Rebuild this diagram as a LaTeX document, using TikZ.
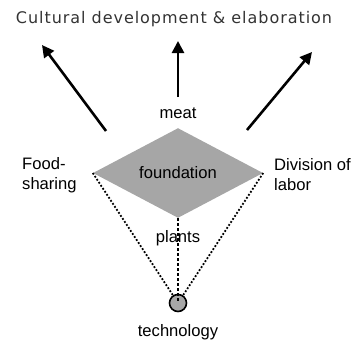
\documentclass[tikz,border=0pt]{standalone}
\usepackage{fontspec}
\setmainfont{Liberation Sans}
\newfontfamily\titlefont[LetterSpace=6]{DejaVu Sans}
\usetikzlibrary{arrows.meta,shapes.geometric}

\tikzset{
  label text/.style={font=\fontsize{16.6}{20}\selectfont, inner sep=0pt},
  side text/.style={label text, align=left, anchor=west},
  grow arrow/.style={line width=2.6pt, -{Triangle[length=12pt,width=12pt]}},
  tie line/.style={line width=1.8pt, dash pattern=on 1.8pt off 1.8pt},
}

\begin{document}
\begin{tikzpicture}[x=1pt, y=-1pt]
  \useasboundingbox (0,0) rectangle (358,345);

  % Title
  \node[font=\titlefont\fontsize{16}{18}\selectfont, text=black!80, inner sep=0pt] (title) at (174,19)
    {Cultural development \& elaboration};

  % Foundation diamond and technology
  \node[diamond, fill=black!35, minimum width=170pt, minimum height=84pt,
        inner sep=0pt, label text] (found) at (178,173) {foundation};
  \node[circle, fill=black!35, draw, line width=1.6pt, minimum size=17pt,
        inner sep=0pt] (tech) at (178,303) {};

  % Labels
  \node[label text] (meat) at (178,113) {meat};
  \node[label text] (plants) at (178,238) {plants};
  \node[label text] (techlbl) at (178,332) {technology};
  \node[side text] (food) at (22,175) {Food-\\sharing};
  \node[side text] (labor) at (274,175) {Division of\\labor};

  % Supports
  \draw[tie line] (found.west) -- (tech);
  \draw[tie line] (found.east) -- (tech);
  \draw[line width=2.6pt, dash pattern=on 3pt off 2pt] (found.south) -- (tech.center);

  % Growth arrows
  \coordinate (leftfoot) at (106,131);
  \coordinate (lefttip) at (42,45);
  \coordinate (midfoot) at (178,97);
  \coordinate (midtip) at (178,41);
  \coordinate (rightfoot) at (247,130);
  \coordinate (righttip) at (312,52);
  \draw[grow arrow] (leftfoot) -- (lefttip);
  \draw[grow arrow] (midfoot) -- (midtip);
  \draw[grow arrow] (rightfoot) -- (righttip);
\end{tikzpicture}
\end{document}
